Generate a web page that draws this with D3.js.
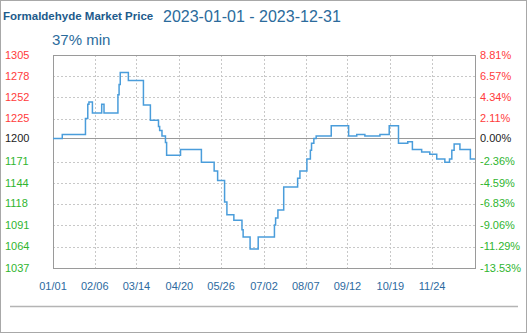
<!DOCTYPE html>
<html lang="en">
<head>
  <meta charset="UTF-8">
  <title>Formaldehyde Market Price</title>
  <style>
    * { margin: 0; box-sizing: border-box; }
    body { background: #fff; }
    svg { display: block; font-family: 'Liberation Sans', Arial, sans-serif; }
    .grid line { stroke: #c8c8c8; stroke-dasharray: 2,2; }
  </style>
</head>
<body>
  <svg></svg>
  <script src="https://d3js.org/d3.v7.min.js"></script>
  <script>
    // price change points (value holds until the next date)
    const dates = ['2023-01-01','2023-01-09','2023-01-29','2023-01-31','2023-02-01','2023-02-04',
      '2023-02-12','2023-02-14','2023-02-26','2023-02-27','2023-02-28','2023-03-07','2023-03-20',
      '2023-03-26','2023-04-02','2023-04-03','2023-04-05','2023-04-08','2023-04-09','2023-04-21',
      '2023-05-09','2023-05-20','2023-05-23','2023-05-29','2023-05-31','2023-06-06','2023-06-13',
      '2023-06-14','2023-06-20','2023-06-27','2023-07-11','2023-07-12','2023-07-14','2023-07-19',
      '2023-07-31','2023-08-02','2023-08-08','2023-08-11','2023-08-12','2023-08-14','2023-08-16',
      '2023-08-29','2023-09-13','2023-09-20','2023-09-27','2023-10-10','2023-10-18','2023-10-26',
      '2023-11-03','2023-11-07','2023-11-15','2023-11-22','2023-11-28','2023-12-05','2023-12-09',
      '2023-12-11','2023-12-13','2023-12-18','2023-12-27','2023-12-31'];
    const prices = [1200,1205,1225,1243,1246,1232,
      1243,1232,1255,1268,1283,1273,1242,
      1223,1215,1210,1203,1195,1179,1186,
      1170,1159,1147,1120,1104,1097,1085,
      1076,1061,1076,1091,1100,1110,1139,
      1150,1159,1174,1185,1194,1200,1203,
      1216,1203,1205,1203,1205,1216,1194,
      1196,1186,1183,1180,1174,1170,1174,
      1185,1193,1186,1174,1174];

    const xTicks = ['2023-01-01','2023-02-06','2023-03-14','2023-04-20','2023-05-26',
      '2023-07-02','2023-08-07','2023-09-12','2023-10-19','2023-11-24'];
    const yTicks = [1305, 1278, 1252, 1225, 1200, 1171, 1144, 1118, 1091, 1064, 1037];
    const pctLabels = ['8.81%','6.57%','4.34%','2.11%','0.00%','-2.36%','-4.59%',
      '-6.83%','-9.06%','-11.29%','-13.53%'];
    const basePrice = 1200;

    const width = 528, height = 334;
    const plot = {left: 53, right: 475, top: 55, bottom: 268};
    const parse = d3.timeParse('%Y-%m-%d');

    const svg = d3.select('svg').attr('width', width).attr('height', height);

    const x = d3.scaleTime()
      .domain([parse('2023-01-01'), parse('2023-12-31')])
      .range([plot.left, plot.right]);
    const y = d3.scaleLinear()
      .domain([1037, 1305])
      .range([plot.bottom, plot.top]);

    const tickColor = v => v > basePrice ? '#ff3b3b' : (v < basePrice ? '#2fb52f' : '#222');

    // outer frame + footer separator
    svg.append('rect')
      .attr('x', 0.5).attr('y', 0.5).attr('width', 526).attr('height', 332)
      .attr('fill', 'none').attr('stroke', '#a8a8a8');
    svg.append('line')
      .attr('x1', 10).attr('x2', 518).attr('y1', 306.5).attr('y2', 306.5)
      .attr('stroke', '#b4b4b4').attr('stroke-width', 1.5);

    // titles
    const title = svg.append('text').attr('y', 20).attr('fill', '#1d5b8c');
    title.append('tspan').attr('x', 3)
      .attr('font-weight', 'bold').attr('font-size', 11.5)
      .text('Formaldehyde Market Price');
    title.append('tspan').attr('x', 163).attr('y', 22)
      .attr('font-size', 16).attr('fill', '#2b6b9c')
      .text('2023-01-01 - 2023-12-31');
    svg.append('text').attr('x', 52).attr('y', 45)
      .attr('font-size', 15).attr('fill', '#2b6b9c')
      .text('37% min');

    // gridlines
    const grid = svg.append('g').attr('class', 'grid');
    grid.selectAll('.v').data(xTicks.slice(1)).join('line')
      .attr('x1', d => Math.round(x(parse(d))) + 0.5)
      .attr('x2', d => Math.round(x(parse(d))) + 0.5)
      .attr('y1', plot.top).attr('y2', plot.bottom);
    grid.selectAll('.h').data(yTicks.filter(v => v !== basePrice && v !== 1305 && v !== 1037)).join('line')
      .attr('x1', plot.left).attr('x2', plot.right)
      .attr('y1', d => Math.round(y(d)) + 0.5)
      .attr('y2', d => Math.round(y(d)) + 0.5);

    // plot frame and 1200 baseline
    svg.append('rect')
      .attr('x', plot.left + 0.5).attr('y', plot.top + 0.5)
      .attr('width', plot.right - plot.left).attr('height', plot.bottom - plot.top)
      .attr('fill', 'none').attr('stroke', '#9a9a9a');
    svg.append('line')
      .attr('x1', plot.left).attr('x2', plot.right)
      .attr('y1', Math.round(y(basePrice)) + 0.5).attr('y2', Math.round(y(basePrice)) + 0.5)
      .attr('stroke', '#9a9a9a');

    // left axis (price)
    svg.append('g').selectAll('text').data(yTicks).join('text')
      .attr('x', 5).attr('y', d => y(d)).attr('dy', '0.35em')
      .attr('font-size', 11).attr('fill', d => tickColor(d))
      .text(d => d);

    // right axis (percent)
    svg.append('g').selectAll('text').data(yTicks).join('text')
      .attr('x', 480).attr('y', d => y(d)).attr('dy', '0.35em')
      .attr('font-size', 11).attr('fill', d => tickColor(d))
      .text((d, i) => pctLabels[i]);

    // bottom axis (dates)
    const fmt = d3.timeFormat('%m/%d');
    svg.append('g').selectAll('text').data(xTicks).join('text')
      .attr('x', d => x(parse(d))).attr('y', 290)
      .attr('text-anchor', 'middle')
      .attr('font-size', 11).attr('fill', '#2d6aa0')
      .text(d => fmt(parse(d)));

    // price line
    const series = dates.map((d, i) => ({date: parse(d), value: prices[i]}));
    const line = d3.line()
      .x(d => x(d.date))
      .y(d => y(d.value))
      .curve(d3.curveStepAfter);
    svg.append('path')
      .datum(series)
      .attr('fill', 'none')
      .attr('stroke', '#4a9ddb')
      .attr('stroke-width', 1.5)
      .attr('d', line);
  </script>
</body>
</html>
